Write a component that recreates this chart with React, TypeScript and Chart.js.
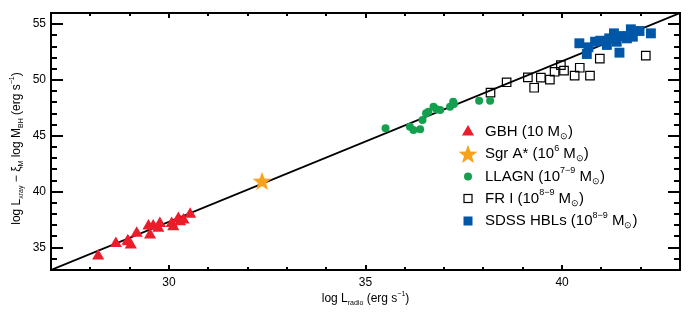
import React, { useEffect, useRef } from 'react';
import { Chart, registerables } from 'chart.js';
Chart.register(...registerables);

// ---- data ----
const gbhX = [28.2, 28.65, 28.97, 29.03, 28.95, 29.18, 29.48, 29.52, 29.6, 29.77, 29.73, 30.07, 30.11, 30.24, 30.28, 30.37, 30.54];
const gbhY = [34.25, 35.38, 35.53, 35.23, 35.6, 36.28, 36.93, 36.13, 36.93, 37.17, 36.73, 37.17, 36.87, 37.62, 37.32, 37.47, 38.0];

const sgrX = [32.37];
const sgrY = [40.96];

const llagnX = [35.51, 36.13, 36.22, 36.39, 36.45, 36.54, 36.6, 36.73, 36.81, 36.9, 37.15, 37.23, 37.25, 37.89, 38.17];
const llagnY = [45.68, 45.82, 45.53, 45.59, 46.42, 47.02, 47.16, 47.61, 47.38, 47.32, 47.61, 48.06, 47.85, 48.15, 48.15];

const fr1X = [38.18, 38.59, 39.13, 39.29, 39.46, 39.69, 39.81, 39.97, 40.05, 40.32, 40.45, 40.71, 40.96, 42.13];
const fr1Y = [48.87, 49.8, 50.24, 49.31, 50.21, 50.03, 50.74, 51.34, 50.84, 50.39, 51.1, 50.39, 51.91, 52.18];

const hblX = [40.44, 40.63, 40.67, 40.84, 40.97, 41.14, 41.2, 41.32, 41.39, 41.46, 41.54, 41.65, 41.75, 41.8, 41.97, 42.26];
const hblY = [53.29, 52.33, 52.93, 53.43, 53.52, 53.14, 53.73, 54.18, 53.43, 52.45, 53.94, 53.73, 54.54, 53.88, 54.39, 54.18];

const fitX = [27, 43];
const fitY = [33.0, 56.0];

const xRange = [27, 43];
const yRange = [33, 56];
const xMajorTicks = [30, 35, 40];
const yMajorTicks = [35, 40, 45, 50, 55];

type Part = [string, 'n' | 'sub' | 'sup'];
const xTitle: Part[] = [['log L', 'n'], ['radio', 'sub'], [' (erg s', 'n'], ['\u22121', 'sup'], [')', 'n']];
const yTitle: Part[] = [['log L', 'n'], ['xray', 'sub'], [' \u2212 \u03BE', 'n'], ['M', 'sub'], [' log M', 'n'], ['BH', 'sub'], [' (erg s', 'n'], ['\u22121', 'sup'], [')', 'n']];
const legendLabels: Part[][] = [
  [['GBH (10 M', 'n'], ['\u2299', 'sub'], [')', 'n']],
  [['Sgr A* (10', 'n'], ['6', 'sup'], [' M', 'n'], ['\u2299', 'sub'], [')', 'n']],
  [['LLAGN (10', 'n'], ['7\u22129', 'sup'], [' M', 'n'], ['\u2299', 'sub'], [')', 'n']],
  [['FR I (10', 'n'], ['8\u22129', 'sup'], [' M', 'n'], ['\u2299', 'sub'], [')', 'n']],
  [['SDSS HBLs (10', 'n'], ['8\u22129', 'sup'], [' M', 'n'], ['\u2299', 'sub'], [')', 'n']],
];

const RED = '#ec1c2a';
const ORANGE = '#f7a21c';
const GREEN = '#14a04e';
const BLUE = '#0057a8';
const FONT = '"Liberation Sans", Arial, Helvetica, sans-serif';

function zip(xs: number[], ys: number[]) {
  return xs.map((x, i) => ({ x, y: ys[i] }));
}

function makeStar(outer: number): HTMLCanvasElement {
  const c = document.createElement('canvas');
  const s = Math.ceil(outer * 2 + 2);
  c.width = s; c.height = s;
  const g = c.getContext('2d')!;
  const cx = s / 2, cy = s / 2 + 0.8;
  const inner = outer * 0.42;
  g.beginPath();
  for (let i = 0; i < 10; i++) {
    const r = i % 2 === 0 ? outer : inner;
    const a = -Math.PI / 2 + (i * Math.PI) / 5;
    const px = cx + r * Math.cos(a), py = cy + r * Math.sin(a);
    if (i === 0) g.moveTo(px, py); else g.lineTo(px, py);
  }
  g.closePath();
  g.fillStyle = ORANGE;
  g.fill();
  return c;
}

function richWidth(ctx: CanvasRenderingContext2D, parts: Part[], size: number) {
  let w = 0;
  for (const [t, k] of parts) {
    ctx.font = `${k === 'n' ? size : Math.round(size * 0.62)}px ${FONT}`;
    w += ctx.measureText(t).width;
  }
  return w;
}

function drawRich(ctx: CanvasRenderingContext2D, parts: Part[], x: number, y: number, size: number, align: 'left' | 'center') {
  const total = richWidth(ctx, parts, size);
  let cx = align === 'center' ? x - total / 2 : x;
  ctx.textAlign = 'left';
  ctx.textBaseline = 'middle';
  ctx.fillStyle = '#000';
  for (const [t, k] of parts) {
    const s = k === 'n' ? size : Math.round(size * 0.62);
    ctx.font = `${s}px ${FONT}`;
    const dy = k === 'sub' ? size * 0.32 : k === 'sup' ? -size * 0.38 : 0;
    ctx.fillText(t, cx, y + dy);
    cx += ctx.measureText(t).width;
  }
}

export default function App() {
  const ref = useRef<HTMLCanvasElement>(null);

  useEffect(() => {
    document.body.style.margin = '0';
    const star = makeStar(10);
    const starSmall = makeStar(10);

    const axesPlugin = {
      id: 'idlAxes',
      afterDatasetsDraw(chart: any) {
        const ctx: CanvasRenderingContext2D = chart.ctx;
        const { left, right, top, bottom } = chart.chartArea;
        const xs = chart.scales.x, ys = chart.scales.y;
        ctx.save();
        ctx.strokeStyle = '#000';
        ctx.lineWidth = 2;
        ctx.strokeRect(left, top, right - left, bottom - top);
        // x ticks (inward, top & bottom)
        ctx.lineWidth = 2;
        for (let v = Math.ceil(xRange[0]); v <= xRange[1]; v++) {
          const px = Math.round(xs.getPixelForValue(v));
          const len = xMajorTicks.includes(v) ? 5 : 3;
          ctx.beginPath();
          ctx.moveTo(px, bottom); ctx.lineTo(px, bottom - len);
          ctx.moveTo(px, top); ctx.lineTo(px, top + len);
          ctx.stroke();
        }
        for (let v = Math.ceil(yRange[0]); v <= yRange[1]; v++) {
          const py = Math.round(ys.getPixelForValue(v));
          const len = yMajorTicks.includes(v) ? 12 : 6;
          ctx.beginPath();
          ctx.moveTo(left, py); ctx.lineTo(left + len, py);
          ctx.moveTo(right, py); ctx.lineTo(right - len, py);
          ctx.stroke();
        }
        // tick labels
        ctx.fillStyle = '#000';
        ctx.font = `12px ${FONT}`;
        ctx.textAlign = 'center';
        ctx.textBaseline = 'middle';
        for (const v of xMajorTicks) {
          ctx.fillText(String(v), xs.getPixelForValue(v), bottom + 13);
        }
        ctx.textAlign = 'right';
        for (const v of yMajorTicks) {
          ctx.fillText(String(v), left - 5, ys.getPixelForValue(v));
        }
        // titles
        drawRich(ctx, xTitle, (left + right) / 2, bottom + 29, 12, 'center');
        ctx.save();
        ctx.translate(17, (top + bottom) / 2 + 7);
        ctx.rotate(-Math.PI / 2);
        drawRich(ctx, yTitle, 0, 0, 12, 'center');
        ctx.restore();

        // legend
        const lx = 468, tx = 485;
        const rows = [132, 154, 176.5, 198.5, 221];
        rows.forEach((ry, i) => {
          ctx.save();
          if (i === 0) {
            const r = 7;
            ctx.fillStyle = RED;
            ctx.beginPath();
            ctx.moveTo(lx, ry - r);
            ctx.lineTo(lx + r * 0.866, ry + r * 0.5);
            ctx.lineTo(lx - r * 0.866, ry + r * 0.5);
            ctx.closePath();
            ctx.fill();
          } else if (i === 1) {
            ctx.drawImage(starSmall, lx - starSmall.width / 2, ry - starSmall.height / 2);
          } else if (i === 2) {
            ctx.fillStyle = GREEN;
            ctx.beginPath();
            ctx.arc(lx, ry, 4, 0, Math.PI * 2);
            ctx.fill();
          } else if (i === 3) {
            ctx.strokeStyle = '#000';
            ctx.lineWidth = 1.2;
            ctx.strokeRect(lx - 4, ry - 4, 8, 8);
          } else {
            ctx.fillStyle = BLUE;
            ctx.fillRect(lx - 4.5, ry - 4.5, 9, 9);
          }
          ctx.restore();
          drawRich(ctx, legendLabels[i], tx, ry, 15, 'left');
        });
        ctx.restore();
      },
    };

    const chart = new Chart(ref.current!, {
      type: 'scatter',
      data: {
        datasets: [
          {
            label: 'GBH', data: zip(gbhX, gbhY), pointStyle: 'triangle', pointRadius: 7,
            backgroundColor: RED, borderColor: RED, borderWidth: 0, order: 1,
          },
          {
            label: 'Sgr A*', data: zip(sgrX, sgrY), pointStyle: star as any, pointRadius: 10,
            backgroundColor: ORANGE, borderColor: ORANGE, order: 1,
          },
          {
            label: 'LLAGN', data: zip(llagnX, llagnY), pointStyle: 'circle', pointRadius: 4,
            backgroundColor: GREEN, borderColor: GREEN, borderWidth: 0, order: 1,
          },
          {
            label: 'FR I', data: zip(fr1X, fr1Y), pointStyle: 'rect', pointRadius: 6,
            backgroundColor: 'rgba(0,0,0,0)', borderColor: '#000', borderWidth: 1.2, order: 1,
          },
          {
            label: 'SDSS HBLs', data: zip(hblX, hblY), pointStyle: 'rect', pointRadius: 7,
            backgroundColor: BLUE, borderColor: BLUE, borderWidth: 0, order: 1,
          },
          {
            type: 'line' as any, label: 'fit', data: zip(fitX, fitY), showLine: true,
            borderColor: '#000', borderWidth: 1.8, pointRadius: 0, fill: false, order: 2,
          },
        ],
      },
      options: {
        responsive: false,
        animation: false,
        devicePixelRatio: 1,
        layout: { padding: { left: 51, right: 11, top: 13, bottom: 44 } },
        plugins: { legend: { display: false }, tooltip: { enabled: false } },
        scales: {
          x: { type: 'linear', min: xRange[0], max: xRange[1], display: false },
          y: { type: 'linear', min: yRange[0], max: yRange[1], display: false },
        },
      },
      plugins: [axesPlugin],
    });
    return () => chart.destroy();
  }, []);

  return (
    <div style={{ position: 'absolute', left: 0, top: 0, background: '#fff' }}>
      <canvas ref={ref} width={691} height={314} style={{ display: 'block' }} />
    </div>
  );
}
